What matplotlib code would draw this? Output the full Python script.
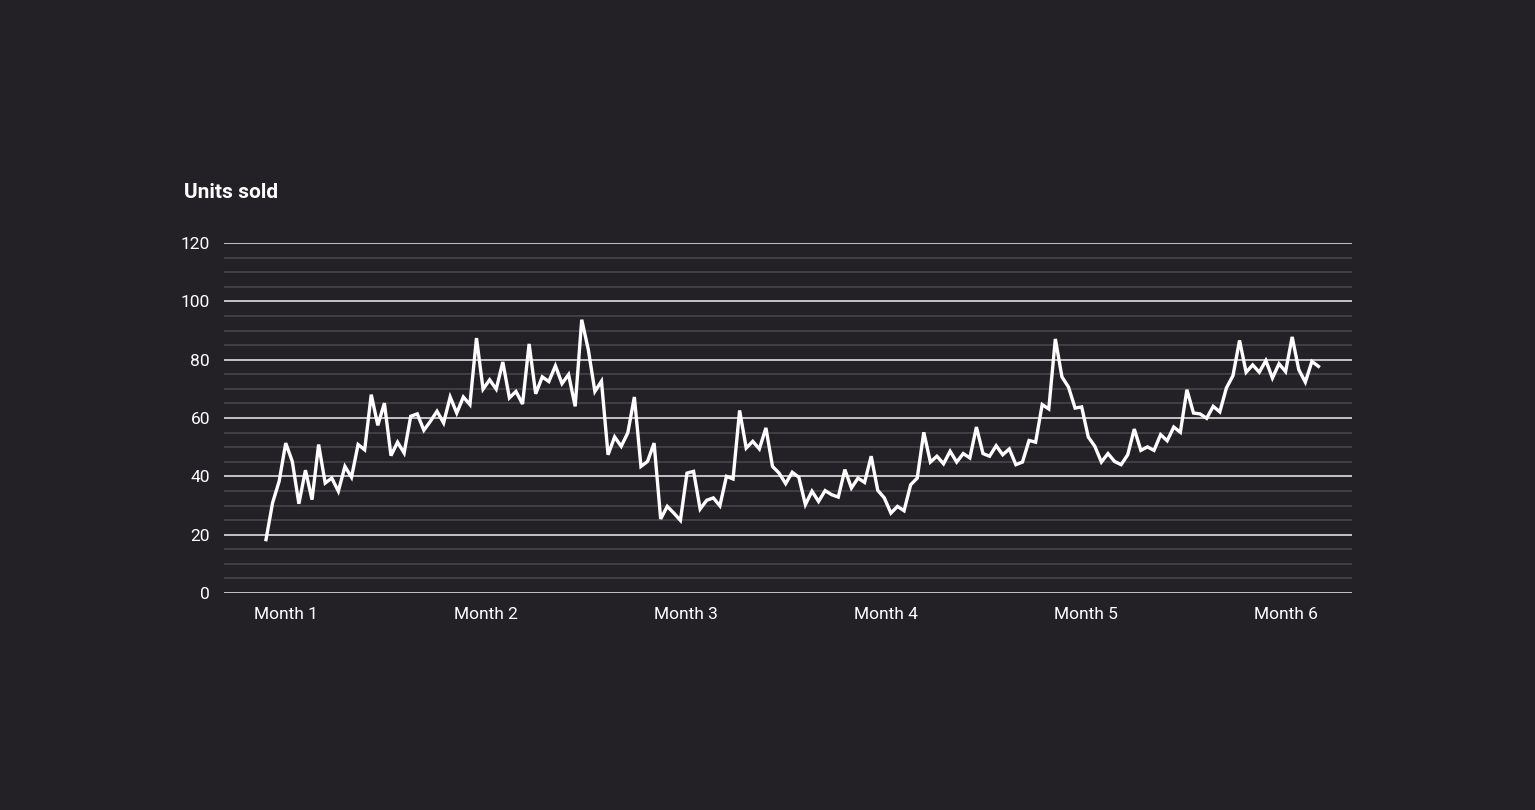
import matplotlib
matplotlib.use("Agg")
import matplotlib.pyplot as plt
import numpy as np

units = [18.3,30.9,38.3,51.4,45.1,30.6,42.1,32,50.9,37.7,39.4,34.9,43.4,39.7,50.9,49.1,68,57.5,65.1,47.1,
51.7,48,60.6,61.4,55.8,58.9,62.3,58.3,67.2,61.7,67.2,64.6,87.4,69.9,73.1,69.9,79.2,66.9,69.1,64.8,
85.4,68.3,74.1,72.5,77.9,71.8,74.9,64,93.7,83.4,69.1,72.6,47.4,53.5,50.3,
54.9,67.2,43.4,45.1,51.4,25.4,29.7,27.4,24.9,41.1,41.7,28.8,31.8,32.6,29.9,40,39.1,62.6,49.7,52,49.4,
56.6,43.4,41.1,37.5,41.4,39.7,30.3,34.9,31.4,35.1,33.7,32.9,42.3,36,39.4,37.9,46.9,35.2,32.6,27.4,29.7,
28.2,37.1,39.4,55.1,44.9,46.9,44.3,48.6,44.9,47.8,46.3,56.9,
47.8,46.9,50.5,47.4,49.4,44,44.9,52.3,51.7,64.6,63.1,87.1,74.1,70.6,63.4,63.8,53.5,50.3,44.9,47.8,45.1,
44,47.4,56.2,48.9,50.1,48.9,54.3,52.2,56.9,55.1,69.7,61.7,61.4,59.9,64,62.1,70.3,74.5,86.6,75.7,78.2,
75.7,79.7,73.7,78.6,75.9,87.8,76.6,72.3,79.4,77.7]
month_labels = ["Month 1","Month 2","Month 3","Month 4","Month 5","Month 6"]
y_ticks = [0,20,40,60,80,100,120]

bg = "#242126"
fig = plt.figure(figsize=(15.35,8.1), dpi=100, facecolor=bg)
ax = fig.add_axes([0.1459,0.2679,0.8808-0.1459,0.7-0.2679])
ax.set_facecolor(bg)
x = np.arange(len(units))
ax.set_xlim(-6.39,165.1)
ax.set_ylim(0,120)
for v in np.arange(0,121,5):
    major = v % 20 == 0
    ax.axhline(v, color="#cfcfd2" if major else "#4a474d", lw=1.3 if major else 1.1, zorder=1)
ax.plot(x, units, color="white", lw=2.4, zorder=3, solid_joinstyle="miter")
for s in ax.spines.values():
    s.set_visible(False)
ax.set_yticks(y_ticks)
ax.set_yticklabels([str(v) for v in y_ticks])
ax.set_xticks([3+30.4*k for k in range(6)])
ax.set_xticklabels(month_labels)
ax.tick_params(length=0, colors="white", labelsize=12.5, pad=10)
for t in ax.get_xticklabels()+ax.get_yticklabels():
    t.set_family("Roboto")
fig.text(184/1535, 1-193/810, "Units sold", color="white", fontsize=15, fontweight="bold",
         family="Roboto", va="center", ha="left")
fig.savefig("out.png", dpi=100, facecolor=bg)
